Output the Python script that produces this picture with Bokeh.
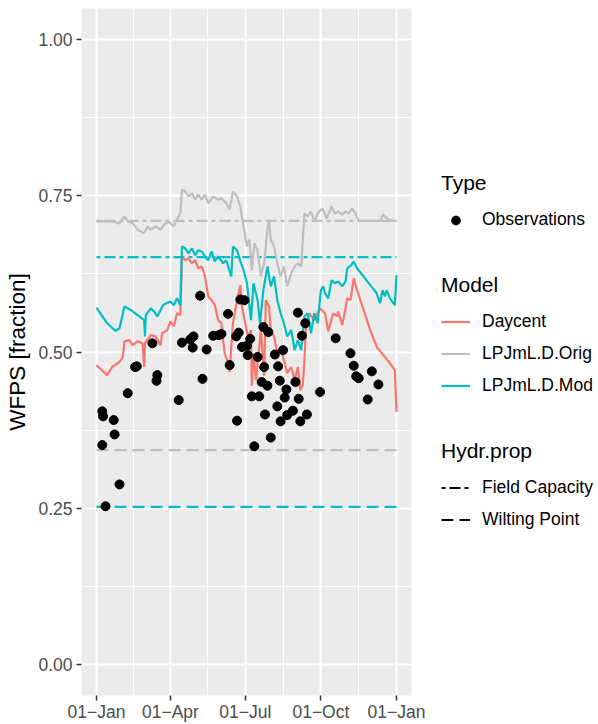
from bokeh.plotting import figure
from bokeh.layouts import row
from bokeh.models import Range1d, FixedTicker, Legend, LegendItem, ColumnDataSource
from bokeh.embed import file_html
from bokeh.resources import INLINE

# ---- data (x = day of year, y = water-filled pore space, fraction) ----
x_tick_days = [0, 90, 181, 273, 365]
x_tick_labels = ["01\u2212Jan", "01\u2212Apr", "01\u2212Jul", "01\u2212Oct", "01\u2212Jan"]
x_minor_days = [45, 135.5, 227, 319]
y_tick_values = [0.0, 0.25, 0.5, 0.75, 1.0]
y_tick_labels = ["0.00", "0.25", "0.50", "0.75", "1.00"]
y_minor_values = [0.125, 0.375, 0.625, 0.875]

obs_day = [7, 8, 21, 22, 7, 11, 28, 38, 47, 49, 74, 73, 68, 100, 104, 114, 118, 117,
           134, 129, 142, 149, 152, 160, 162, 171, 126, 170, 173, 177, 175, 180, 184,
           187, 183, 189, 198, 196, 203, 209, 204, 201, 208, 205, 212, 192, 217, 227,
           221, 223, 231, 229, 220, 224, 232, 239, 242, 245, 254, 250, 246, 248, 256,
           272, 291, 309, 313, 316, 319, 335, 343, 330]
obs_wfps = [0.405, 0.397, 0.391, 0.368, 0.351, 0.253, 0.288, 0.434, 0.476, 0.477, 0.463,
            0.454, 0.514, 0.423, 0.515, 0.520, 0.525, 0.507, 0.504, 0.457, 0.526, 0.527,
            0.529, 0.561, 0.479, 0.390, 0.590, 0.525, 0.531, 0.508, 0.584, 0.583, 0.495,
            0.521, 0.510, 0.429, 0.429, 0.492, 0.540, 0.532, 0.476, 0.452, 0.446, 0.400,
            0.363, 0.349, 0.496, 0.503, 0.477, 0.454, 0.440, 0.427, 0.413, 0.389, 0.399,
            0.406, 0.452, 0.563, 0.546, 0.526, 0.425, 0.389, 0.400, 0.436, 0.522, 0.498,
            0.478, 0.461, 0.458, 0.469, 0.448, 0.424]

daycent_day = [0, 13, 19, 28, 32, 34, 40, 44, 50, 56, 58, 59, 66, 72, 78, 80, 86, 90, 94,
               98, 102, 104, 108, 112, 116, 120, 124, 128, 132, 136, 140, 144, 148, 152,
               154, 156, 160, 162, 164, 166, 171, 175, 177, 181, 184, 188, 189, 191, 194,
               200, 204, 206, 210, 212, 216, 220, 224, 228, 232, 237, 241, 245, 248, 251,
               253, 255, 259, 265, 269, 272, 278, 282, 288, 293, 294, 299, 303, 305, 309,
               313, 317, 325, 333, 341, 349, 357, 363, 365]
daycent_wfps = [0.479, 0.463, 0.476, 0.484, 0.492, 0.517, 0.519, 0.511, 0.517, 0.514,
                0.476, 0.514, 0.527, 0.525, 0.511, 0.530, 0.535, 0.549, 0.541, 0.562,
                0.559, 0.653, 0.647, 0.650, 0.642, 0.647, 0.634, 0.637, 0.621, 0.589,
                0.583, 0.575, 0.551, 0.546, 0.519, 0.498, 0.482, 0.468, 0.508, 0.546,
                0.583, 0.607, 0.573, 0.546, 0.525, 0.535, 0.446, 0.498, 0.455, 0.535,
                0.462, 0.583, 0.573, 0.535, 0.525, 0.498, 0.508, 0.487, 0.466, 0.476,
                0.455, 0.476, 0.439, 0.447, 0.487, 0.546, 0.562, 0.551, 0.562, 0.570,
                0.562, 0.533, 0.562, 0.557, 0.565, 0.543, 0.570, 0.586, 0.583, 0.618,
                0.599, 0.567, 0.535, 0.508, 0.495, 0.482, 0.471, 0.404]

orig_day = [0, 19, 28, 34, 38, 44, 50, 58, 62, 66, 72, 78, 82, 88, 94, 98, 102, 104, 108,
            112, 116, 120, 124, 128, 132, 136, 142, 148, 152, 158, 162, 166, 171, 175, 179,
            183, 186, 189, 192, 196, 200, 204, 208, 210, 212, 216, 220, 224, 228, 232, 237,
            241, 245, 249, 253, 257, 261, 265, 269, 275, 280, 286, 290, 294, 299, 303, 307,
            311, 315, 319, 345, 349, 353, 359, 365]
orig_wfps = [0.709, 0.709, 0.706, 0.717, 0.709, 0.706, 0.696, 0.690, 0.701, 0.696, 0.701,
             0.696, 0.704, 0.709, 0.701, 0.712, 0.722, 0.760, 0.757, 0.749, 0.754, 0.744,
             0.752, 0.744, 0.752, 0.738, 0.749, 0.744, 0.746, 0.738, 0.728, 0.757, 0.749,
             0.733, 0.701, 0.669, 0.680, 0.631, 0.674, 0.663, 0.621, 0.642, 0.696, 0.712,
             0.680, 0.669, 0.642, 0.621, 0.637, 0.605, 0.626, 0.637, 0.642, 0.637, 0.722,
             0.717, 0.725, 0.709, 0.722, 0.730, 0.714, 0.733, 0.722, 0.725, 0.720, 0.725,
             0.722, 0.730, 0.722, 0.710, 0.710, 0.720, 0.714, 0.710, 0.710]

mod_day = [0, 13, 23, 28, 34, 38, 44, 52, 58, 59, 60, 66, 70, 74, 76, 81, 85, 90, 94, 98,
           102, 104, 108, 112, 116, 120, 124, 128, 132, 136, 140, 144, 148, 154, 158, 162,
           164, 166, 171, 175, 179, 183, 184, 188, 191, 196, 199, 203, 208, 212, 216, 220,
           224, 228, 232, 237, 241, 245, 249, 253, 257, 261, 265, 269, 273, 276, 278, 282,
           286, 290, 294, 299, 303, 305, 310, 313, 317, 325, 333, 341, 345, 348, 351, 353,
           357, 363, 365]
mod_wfps = [0.571, 0.546, 0.534, 0.538, 0.573, 0.570, 0.565, 0.557, 0.551, 0.525, 0.559,
            0.570, 0.565, 0.557, 0.562, 0.575, 0.578, 0.581, 0.575, 0.586, 0.575, 0.669,
            0.666, 0.658, 0.666, 0.655, 0.663, 0.661, 0.653, 0.647, 0.661, 0.645, 0.653,
            0.642, 0.647, 0.629, 0.621, 0.669, 0.663, 0.645, 0.631, 0.610, 0.599, 0.551,
            0.610, 0.583, 0.546, 0.599, 0.637, 0.605, 0.621, 0.583, 0.562, 0.546, 0.525,
            0.535, 0.503, 0.519, 0.503, 0.557, 0.562, 0.530, 0.562, 0.546, 0.599, 0.605,
            0.594, 0.586, 0.615, 0.610, 0.613, 0.605, 0.613, 0.634, 0.639, 0.645, 0.634,
            0.621, 0.607, 0.594, 0.578, 0.599, 0.589, 0.599, 0.586, 0.575, 0.623]

# soil hydraulic properties of the two LPJmL set-ups
hydr_models = ["LPJmL.D.Orig", "LPJmL.D.Mod"]
field_capacity = [0.710, 0.652]
wilting_point = [0.343, 0.252]
hydr_span = [0, 365]

model_names = ["Daycent", "LPJmL.D.Orig", "LPJmL.D.Mod"]
model_colors = {"Daycent": "#F8766D", "LPJmL.D.Orig": "#BEBEBE", "LPJmL.D.Mod": "#00BFC4"}
FONT = "Liberation Sans"
DASH_FC = "4 4 11 4"
DASH_WP = "12 6"
LW = 2.2
DOT = 9

# ---- main panel ----
p = figure(width=440, height=724, output_backend="svg", toolbar_location=None,
           x_range=Range1d(-18.25, 383.25), y_range=Range1d(-0.05, 1.05),
           min_border_left=81, min_border_right=29, min_border_top=8,
           min_border_bottom=26, background_fill_color="#EBEBEB",
           border_fill_color="white", outline_line_color=None)

p.xaxis.ticker = FixedTicker(ticks=x_tick_days, minor_ticks=x_minor_days)
p.xaxis.major_label_overrides = dict(zip(x_tick_days, x_tick_labels))
p.yaxis.ticker = FixedTicker(ticks=y_tick_values, minor_ticks=y_minor_values)
p.yaxis.major_label_overrides = dict(zip(y_tick_values, y_tick_labels))
for ax in (p.xaxis, p.yaxis):
    ax.axis_line_color = None
    ax.major_tick_line_color = "#333333"
    ax.major_tick_line_width = 1.5
    ax.major_tick_out = 5
    ax.major_tick_in = 0
    ax.minor_tick_line_color = None
    ax.major_label_text_color = "#4D4D4D"
    ax.major_label_text_font = FONT
    ax.major_label_text_font_size = "17.5px"
    ax.major_label_standoff = 4
p.xaxis.major_label_standoff = 1
p.yaxis.axis_label = "WFPS [fraction]"
p.yaxis.axis_label_text_font = FONT
p.yaxis.axis_label_text_font_size = "22.5px"
p.yaxis.axis_label_text_font_style = "normal"
p.yaxis.axis_label_text_color = "black"
p.yaxis.axis_label_standoff = 5

for g in (p.xgrid, p.ygrid):
    g.grid_line_color = "white"
    g.grid_line_width = 2
    g.minor_grid_line_color = "white"
    g.minor_grid_line_width = 1

# field capacity / wilting point reference lines
hydr_src = ColumnDataSource(dict(
    x0=[hydr_span[0]] * len(hydr_models), x1=[hydr_span[1]] * len(hydr_models),
    fc=field_capacity, wp=wilting_point,
    color=[model_colors[m] for m in hydr_models]))
p.segment(x0="x0", x1="x1", y0="fc", y1="fc", color="color", line_width=LW,
          line_dash=DASH_FC, source=hydr_src)
p.segment(x0="x0", x1="x1", y0="wp", y1="wp", color="color", line_width=LW,
          line_dash=DASH_WP, source=hydr_src)

# simulated series and observations
p.line(daycent_day, daycent_wfps, color=model_colors["Daycent"], line_width=LW)
p.line(orig_day, orig_wfps, color=model_colors["LPJmL.D.Orig"], line_width=LW)
p.line(mod_day, mod_wfps, color=model_colors["LPJmL.D.Mod"], line_width=LW)
p.scatter(obs_day, obs_wfps, size=DOT, color="black")

# ---- legend column ----
lg = figure(width=158, height=724, output_backend="svg", toolbar_location=None,
            x_range=Range1d(0, 1), y_range=Range1d(0, 1), min_border=0,
            background_fill_color="white", border_fill_color="white",
            outline_line_color=None)
lg.axis.visible = False
lg.grid.visible = False

# key glyphs: one placeholder row each (NaN, so nothing is plotted in the column)
nan = [float("nan")]
k_obs = lg.scatter(nan, nan, size=DOT, color="black")
k_models = [lg.line(nan, nan, color=model_colors[m], line_width=LW) for m in model_names]
k_fc = lg.line(nan, nan, color="black", line_width=LW, line_dash=DASH_FC)
k_wp = lg.line(nan, nan, color="black", line_width=LW, line_dash=DASH_WP)


def make_legend(title, items, loc, glyph_h=29):
    leg = Legend(items=items, title=title, location=loc, orientation="vertical",
                 padding=0, margin=0, spacing=3, border_line_color=None,
                 background_fill_alpha=0, glyph_width=29, glyph_height=glyph_h,
                 label_height=29, label_standoff=12, title_standoff=10,
                 label_text_font=FONT, label_text_font_size="17.5px",
                 label_text_color="black", title_text_font=FONT,
                 title_text_font_size="21px", title_text_font_style="normal",
                 title_text_color="black")
    lg.add_layout(leg)
    return leg


make_legend("Type", [LegendItem(label="Observations", renderers=[k_obs])], (1, 461), glyph_h=22)
make_legend("Model", [LegendItem(label=m, renderers=[r]) for m, r in zip(model_names, k_models)],
            (1, 295))
make_legend("Hydr.prop", [LegendItem(label="Field Capacity", renderers=[k_fc]),
                          LegendItem(label="Wilting Point", renderers=[k_wp])], (1, 161))

layout = row(p, lg, spacing=0)
open("out.html", "w").write(file_html(layout, INLINE))
